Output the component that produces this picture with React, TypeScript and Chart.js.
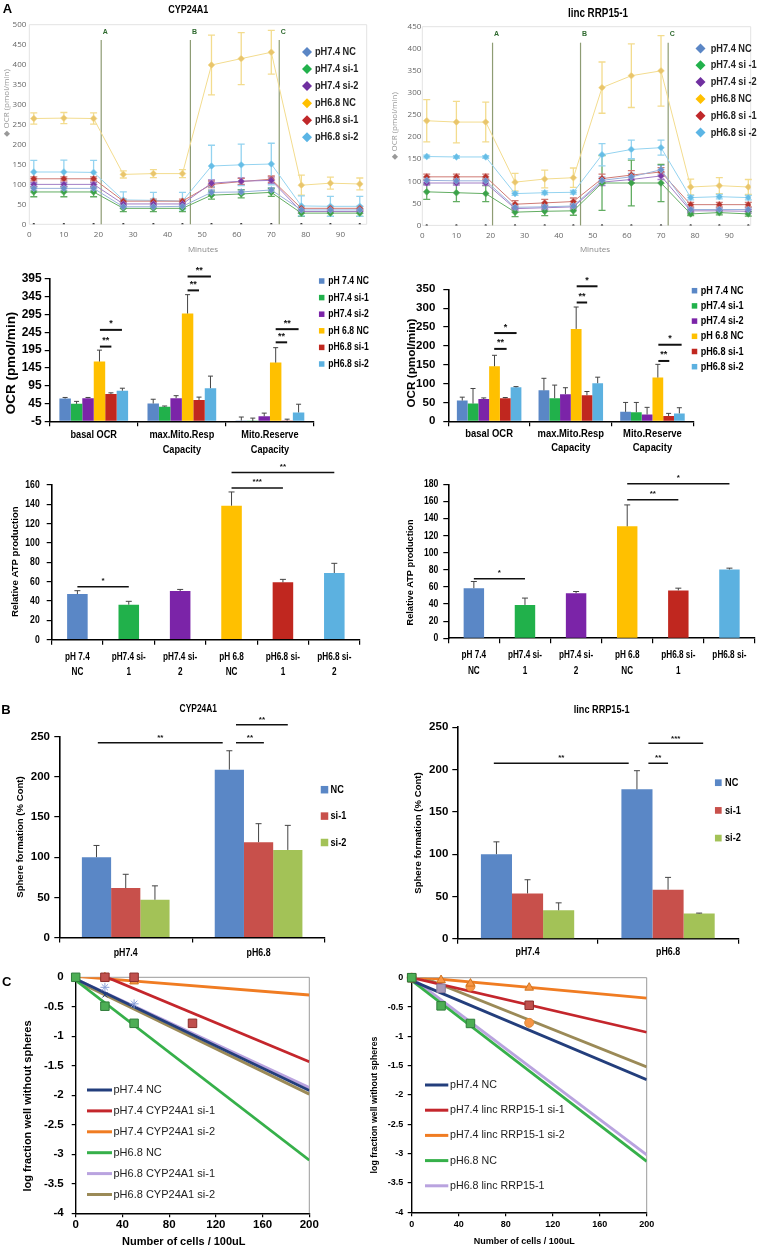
import React, { useEffect, useRef } from 'react';
import { Chart, registerables } from 'chart.js';

Chart.register(...registerables);

const ARIAL = "'Liberation Sans', Arial, Helvetica, sans-serif";
const OPEN = "'Open Sans', 'DejaVu Sans', sans-serif";

/* ================= DATA ================= */
/* A, row 1: Seahorse OCR time course */
const seahorseMinutes = [1.3, 10, 18.6, 27.2, 35.9, 44.3, 52.7, 61.3, 70, 78.7, 87.1, 95.6];
const injectionLabels = ['A', 'B', 'C'];
const cypInjectionMinutes = [20.8, 46.6, 72.3];
const lincInjectionMinutes = [20.6, 46.4, 72.1];
const cypSeahorseGroups = ['pH7.4 NC', 'pH7.4 si-1', 'pH7.4 si-2', 'pH6.8 NC', 'pH6.8 si-1', 'pH6.8 si-2'];
const lincSeahorseGroups = ['pH7.4 NC', 'pH7.4 si -1', 'pH7.4 si -2', 'pH6.8 NC', 'pH6.8 si -1', 'pH6.8 si -2'];

const cypOcr74NC = [90, 90, 90, 44, 44, 45, 80, 81, 86, 36, 36, 36];
const cypOcr74NCErr = [5, 5, 5, 4, 4, 4, 6, 6, 6, 4, 4, 4];
const cypOcr74Si1 = [81, 81, 81, 40, 40, 40, 73, 76, 80, 28, 28, 28];
const cypOcr74Si1Err = [12, 12, 12, 8, 8, 8, 10, 10, 10, 8, 8, 8];
const cypOcr74Si2 = [100, 100, 100, 51, 51, 51, 103, 108, 110, 32, 32, 32];
const cypOcr74Si2Err = [5, 5, 5, 4, 4, 4, 8, 8, 8, 4, 4, 4];
const cypOcr68NC = [265, 266, 265, 125, 127, 127, 399, 415, 431, 98, 103, 101];
const cypOcr68NCErr = [14, 14, 14, 9, 10, 10, 75, 65, 55, 25, 15, 15];
const cypOcr68Si1 = [114, 114, 114, 58, 58, 58, 100, 107, 113, 40, 40, 40];
const cypOcr68Si1Err = [5, 5, 5, 5, 5, 5, 8, 8, 8, 5, 5, 5];
const cypOcr68Si2 = [131, 131, 130, 61, 60, 58, 146, 149, 151, 46, 45, 45];
const cypOcr68Si2Err = [29, 30, 30, 20, 20, 22, 52, 52, 52, 25, 25, 25];

const lincOcr74NC = [102, 101, 101, 41, 42, 44, 102, 110, 126, 36, 36, 36];
const lincOcr74NCErr = [6, 6, 6, 5, 5, 5, 8, 8, 10, 4, 4, 4];
const lincOcr74Si1 = [76, 74, 72, 30, 32, 33, 96, 96, 96, 26, 29, 26];
const lincOcr74Si1Err = [17, 20, 18, 10, 10, 10, 62, 52, 42, 4, 5, 5];
const lincOcr74Si2 = [96, 96, 96, 38, 40, 42, 98, 104, 112, 33, 33, 32];
const lincOcr74Si2Err = [5, 5, 5, 5, 5, 5, 8, 8, 8, 4, 4, 4];
const lincOcr68NC = [237, 234, 234, 98, 105, 108, 312, 339, 350, 87, 90, 87];
const lincOcr68NCErr = [48, 47, 45, 20, 20, 22, 58, 72, 80, 18, 18, 17];
const lincOcr68Si1 = [110, 110, 110, 48, 51, 54, 106, 114, 121, 47, 47, 47];
const lincOcr68Si1Err = [6, 6, 6, 8, 8, 8, 10, 10, 10, 5, 5, 5];
const lincOcr68Si2 = [156, 155, 155, 72, 74, 75, 160, 172, 176, 63, 65, 63];
const lincOcr68Si2Err = [3, 3, 3, 4, 4, 4, 25, 21, 17, 5, 5, 5];

/* A, row 2: OCR summary bars */
const ocrCategories = [['basal OCR'], ['max.Mito.Resp', 'Capacity'], ['Mito.Reserve', 'Capacity']];
const ocrGroups = ['pH 7.4 NC', 'pH7.4 si-1', 'pH7.4 si-2', 'pH 6.8 NC', 'pH6.8 si-1', 'pH6.8 si-2'];
const cypBar74NC = [59, 45, -3];
const cypBar74NCErr = [3, 12, 10];
const cypBar74Si1 = [44, 36, -4];
const cypBar74Si1Err = [7, 2, 8];
const cypBar74Si2 = [60, 60, 9];
const cypBar74Si2Err = [2, 7, 9];
const cypBar68NC = [163, 298, 160];
const cypBar68NCErr = [32, 53, 42];
const cypBar68Si1 = [72, 55, -3];
const cypBar68Si1Err = [3, 8, 4];
const cypBar68Si2 = [81, 88, 20];
const cypBar68Si2Err = [7, 34, 23];

const lincBar74NC = [55, 82, 25];
const lincBar74NCErr = [9, 32, 25];
const lincBar74Si1 = [47, 61, 24];
const lincBar74Si1Err = [40, 35, 26];
const lincBar74Si2 = [59, 72, 18];
const lincBar74Si2Err = [3, 17, 19];
const lincBar68NC = [146, 245, 116];
const lincBar68NCErr = [29, 58, 35];
const lincBar68Si1 = [61, 69, 14];
const lincBar68Si1Err = [2, 10, 7];
const lincBar68Si2 = [90, 101, 21];
const lincBar68Si2Err = [2, 16, 15];

const cypOcrBrackets = [
  { from: 0.07, to: 0.2, y: 205, label: '**' },
  { from: 0.07, to: 0.32, y: 252, label: '*' },
  { from: 1.065, to: 1.195, y: 363, label: '**' },
  { from: 1.065, to: 1.33, y: 402, label: '**' },
  { from: 2.065, to: 2.195, y: 217, label: '**' },
  { from: 2.065, to: 2.325, y: 254, label: '**' },
];
const lincOcrBrackets = [
  { from: 0.062, to: 0.214, y: 192, label: '**' },
  { from: 0.062, to: 0.336, y: 234, label: '*' },
  { from: 1.072, to: 1.2, y: 315, label: '**' },
  { from: 1.072, to: 1.327, y: 358, label: '*' },
  { from: 2.072, to: 2.206, y: 160, label: '**' },
  { from: 2.072, to: 2.357, y: 203, label: '*' },
];

/* A, row 3: relative ATP production */
const atpCategoriesCyp = [['pH 7.4', 'NC'], ['pH7.4 si-', '1'], ['pH7.4 si-', '2'], ['pH 6.8', 'NC'], ['pH6.8 si-', '1'], ['pH6.8 si-', '2']];
const atpCategoriesLinc = [['pH 7.4', 'NC'], ['pH7.4 si-', '1'], ['pH7.4 si-', '2'], ['pH 6.8', 'NC'], ['pH6.8 si-', '1'], ['pH6.8 si-']];
const cypAtp = [47.2, 36.2, 50.3, 138.6, 59.3, 69.0];
const cypAtpErr = [3.5, 3.5, 1.7, 14.2, 3.1, 10];
const lincAtp = [58.6, 39, 52.7, 130.9, 56, 80.5];
const lincAtpErr = [7.8, 8, 2, 25, 2.6, 1.5];
const cypAtpBrackets = [
  { from: 0, to: 1, y: 54.8, label: '*' },
  { from: 3, to: 4, y: 157, label: '***' },
  { from: 3, to: 5, y: 173, label: '**' },
];
const lincAtpBrackets = [
  { from: 0, to: 1, y: 69.5, label: '*' },
  { from: 3, to: 4, y: 162, label: '**' },
  { from: 3, to: 5, y: 180.5, label: '*' },
];

/* B: sphere formation */
const sphereCategories = ['pH7.4', 'pH6.8'];
const sphereGroups = ['NC', 'si-1', 'si-2'];
const cypSphereNC = [100, 209];
const cypSphereNCErr = [14.6, 23.5];
const cypSphereSi1 = [61.5, 118.7];
const cypSphereSi1Err = [17.2, 23];
const cypSphereSi2 = [47, 109];
const cypSphereSi2Err = [17.3, 30.6];
const lincSphereNC = [100, 176.7];
const lincSphereNCErr = [14.6, 22];
const lincSphereSi1 = [53.6, 58];
const lincSphereSi1Err = [16.2, 14.6];
const lincSphereSi2 = [33.7, 29.8];
const lincSphereSi2Err = [8.8, 0.6];
const cypSphereBrackets = [
  { from: -0.21, to: 0.73, y: 242.5, label: '**' },
  { from: 0.83, to: 1.04, y: 242.5, label: '**' },
  { from: 0.83, to: 1.22, y: 265, label: '**' },
];
const lincSphereBrackets = [
  { from: -0.24, to: 0.72, y: 207.5, label: '**' },
  { from: 0.86, to: 1.0, y: 207.5, label: '**' },
  { from: 0.86, to: 1.25, y: 231, label: '***' },
];

/* C: limiting dilution, fitted lines (value at 0 and at 200 cells) */
const ldaDoseEnds = [0, 200];
const cypFitLabels = ['pH7.4 NC', 'pH7.4 CYP24A1 si-1', 'pH7.4 CYP24A1 si-2', 'pH6.8 NC', 'pH6.8 CYP24A1 si-1', 'pH6.8 CYP24A1 si-2'];
const cypFit74NC = [-0.03, -1.92];
const cypFit74Si1 = [0.22, -1.43];
const cypFit74Si2 = [0.015, -0.3];
const cypFit68NC = [-0.05, -3.1];
const cypFit68Si1 = [-0.03, -1.87];
const cypFit68Si2 = [-0.06, -1.98];
const cypObs68NCx = [0, 25, 50];
const cypObs68NCy = [0, -0.49, -0.78];
const cypObs74Si1x = [25, 50, 100];
const cypObs74Si1y = [0, 0, -0.78];
const cypObs74Si2x = [25, 50];
const cypObs74Si2y = [0, -0.07];
const cypObs68Si1x = [25, 50];
const cypObs68Si1y = [-0.17, -0.45];
const cypObs74NCx = [25];
const cypObs74NCy = [-0.3];

const lincFitLabels = ['pH7.4 NC', 'pH7.4 linc RRP15-1 si-1', 'pH7.4 linc RRP15-1 si-2', 'pH6.8 NC', 'pH6.8 linc RRP15-1', ''];
const lincFit74NC = [-0.05, -1.74];
const lincFit74Si1 = [0.0, -0.93];
const lincFit74Si2 = [0.02, -0.35];
const lincFit68NC = [-0.05, -3.13];
const lincFit68Linc = [0.0, -3.02];
const lincFitExtra = [0.08, -1.52];
const lincObs68NCx = [0, 25, 50];
const lincObs68NCy = [0, -0.48, -0.78];
const lincObs74Si1x = [0, 100];
const lincObs74Si1y = [0, -0.47];
const lincObs74Si2x = [25, 50, 100];
const lincObs74Si2y = [-0.04, -0.1, -0.17];
const lincObsExtrax = [0, 50, 100];
const lincObsExtray = [0, -0.15, -0.77];
const lincObs68Lincx = [25];
const lincObs68Lincy = [-0.18];

/* ================= STYLE ================= */
const seahorseMarker = ['#6a8fc9', '#3aa34a', '#7b3aa6', '#e9c56c', '#b8322c', '#66bde6'];
const seahorseLine = ['#9ab3dc', '#62ad62', '#a27fc6', '#f3dc8e', '#cf7a74', '#94d3f0'];
const seahorseLegend = ['#5b86c5', '#22b14c', '#7030a0', '#ffc000', '#c0282a', '#5bb5e5'];
const barColors = ['#5a87c6', '#21b14b', '#7b24a8', '#ffc000', '#c0271f', '#5cb1e0'];
const sphereColors = ['#5a87c6', '#c8504b', '#a3c257'];
const ldaColors = ['#233e7c', '#c4262c', '#f07c22', '#36b04a', '#b9a3df', '#9b8a57'];

type Box = { x: number; y: number; w: number; h: number };
type Area = { l: number; t: number; r: number; b: number };
type TextItem = { t: string; x: number; y: number; font: string; color?: string; align?: string; rot?: number; sx?: number };

const frame = (box: Box, area: Area) => ({
  padding: { left: 0, top: area.t - box.y, right: box.x + box.w - area.r, bottom: 0 },
  fitY: (s: any) => { s.width = area.l - box.x; s.paddingTop = 0; s.paddingBottom = 0; },
  fitX: (s: any) => { s.height = box.y + box.h - area.b; s.paddingLeft = 0; s.paddingRight = 0; },
});

/* ================= PLUGINS ================= */
function drawErrors(chart: any, phase: string) {
  const ctx = chart.ctx;
  const ys = chart.scales.y;
  chart.data.datasets.forEach((ds: any, i: number) => {
    if (!ds.errors || (ds.errorPhase || 'after') !== phase) return;
    const meta = chart.getDatasetMeta(i);
    ctx.save();
    ctx.strokeStyle = ds.errorColor || '#333';
    ctx.lineWidth = ds.errorWidth || 1;
    meta.data.forEach((el: any, j: number) => {
      const raw = ds.data[j];
      const v = typeof raw === 'number' ? raw : raw.y;
      const e = ds.errors[j];
      if (e == null) return;
      const cap = ds.errorCap || 3;
      const x = el.x;
      const yHi = ys.getPixelForValue(v + e);
      const yLo = ds.errorMode === 'both' ? ys.getPixelForValue(v - e) : ys.getPixelForValue(v);
      ctx.beginPath();
      ctx.moveTo(x, yLo);
      ctx.lineTo(x, yHi);
      ctx.moveTo(x - cap, yHi);
      ctx.lineTo(x + cap, yHi);
      if (ds.errorMode === 'both') {
        ctx.moveTo(x - cap, yLo);
        ctx.lineTo(x + cap, yLo);
      }
      ctx.stroke();
    });
    ctx.restore();
  });
}
const errorBars = {
  id: 'errorBars',
  beforeDatasetsDraw(chart: any) { drawErrors(chart, 'before'); },
  afterDatasetsDraw(chart: any) { drawErrors(chart, 'after'); },
};

/* draws a scale's tick labels horizontally condensed (like Arial Narrow) */
function condenseTicks(axes: Record<string, number>) {
  return {
    id: 'condenseTicks',
    beforeDraw(chart: any) {
      Object.keys(axes).forEach((id) => {
        const scale = chart.scales[id];
        if (!scale || scale.__condensed) return;
        scale.__condensed = true;
        const sx = axes[id];
        scale.drawLabels = function (chartArea: any) {
          if (!this.options.ticks.display) return;
          const ctx = this.ctx;
          const items = this.getLabelItems(chartArea);
          for (const item of items) {
            const o = item.options;
            ctx.save();
            ctx.translate(o.translation[0], o.translation[1]);
            if (o.rotation) ctx.rotate(o.rotation);
            ctx.scale(sx, 1);
            ctx.font = item.font.string;
            ctx.fillStyle = o.color;
            ctx.textAlign = o.textAlign;
            ctx.textBaseline = o.textBaseline;
            const lines = Array.isArray(item.label) ? item.label : [item.label];
            let y = item.textOffset;
            for (const line of lines) {
              ctx.fillText(String(line), 0, y);
              y += Number(item.font.lineHeight);
            }
            ctx.restore();
          }
        };
      });
    },
  };
}

function textPlugin(box: Box, items: TextItem[]) {
  return {
    id: 'pageText',
    afterDraw(chart: any) {
      const ctx = chart.ctx;
      items.forEach((it) => {
        ctx.save();
        ctx.font = it.font;
        ctx.fillStyle = it.color || '#000';
        ctx.textAlign = (it.align || 'center') as CanvasTextAlign;
        ctx.textBaseline = 'middle';
        ctx.translate(it.x - box.x, it.y - box.y);
        if (it.rot) ctx.rotate(it.rot);
        if (it.sx) ctx.scale(it.sx, 1);
        ctx.fillText(it.t, 0, 0);
        ctx.restore();
      });
    },
  };
}

function legendPlugin(box: Box, s: any) {
  return {
    id: 'pageLegend',
    afterDraw(chart: any) {
      const ctx = chart.ctx;
      let i = 0;
      chart.data.datasets.forEach((ds: any) => {
        if (ds.inLegend === false) return;
        const y = s.y + i * s.step - box.y;
        const x = s.x - box.x;
        const col = ds.legendColor || ds.borderColor || ds.backgroundColor;
        ctx.save();
        ctx.fillStyle = col;
        ctx.strokeStyle = col;
        if (s.marker === 'diamond') {
          ctx.beginPath();
          ctx.moveTo(x, y - s.size);
          ctx.lineTo(x + s.size, y);
          ctx.lineTo(x, y + s.size);
          ctx.lineTo(x - s.size, y);
          ctx.closePath();
          ctx.fill();
        } else if (s.marker === 'square') {
          ctx.fillRect(x - s.size / 2, y - s.size / 2, s.size, s.size);
        } else {
          ctx.lineWidth = s.size;
          ctx.beginPath();
          ctx.moveTo(x, y);
          ctx.lineTo(x + s.lineLen, y);
          ctx.stroke();
        }
        ctx.fillStyle = s.color || '#000';
        ctx.font = s.font;
        ctx.textAlign = 'left';
        ctx.textBaseline = 'middle';
        ctx.translate(s.textX - box.x, y);
        if (s.sx) ctx.scale(s.sx, 1);
        ctx.fillText(ds.label, 0, 0);
        ctx.restore();
        i++;
      });
    },
  };
}

function bracketPlugin(list: any[], lw: number, font: string, gap: number) {
  return {
    id: 'brackets',
    afterDatasetsDraw(chart: any) {
      const ctx = chart.ctx;
      const xs = chart.scales.x;
      const ys = chart.scales.y;
      ctx.save();
      ctx.strokeStyle = '#111';
      ctx.fillStyle = '#111';
      ctx.lineWidth = lw;
      ctx.font = font;
      ctx.textAlign = 'center';
      ctx.textBaseline = 'middle';
      list.forEach((b) => {
        const x1 = xs.getPixelForValue(b.from);
        const x2 = xs.getPixelForValue(b.to);
        const y = ys.getPixelForValue(b.y);
        ctx.beginPath();
        ctx.moveTo(x1, y);
        ctx.lineTo(x2, y);
        ctx.stroke();
        ctx.fillText(b.label, (x1 + x2) / 2, y - gap);
      });
      ctx.restore();
    },
  };
}

function injectionPlugin(box: Box, minutes: number[], top: number, labelY: number) {
  return {
    id: 'injections',
    beforeDatasetsDraw(chart: any) {
      const ctx = chart.ctx;
      const xs = chart.scales.x;
      const bottom = chart.chartArea.bottom;
      minutes.forEach((m, i) => {
        const x = xs.getPixelForValue(m);
        ctx.save();
        ctx.strokeStyle = '#8e9c74';
        ctx.lineWidth = 1.2;
        ctx.beginPath();
        ctx.moveTo(x, top - box.y);
        ctx.lineTo(x, bottom);
        ctx.stroke();
        ctx.fillStyle = '#2f6a2f';
        ctx.font = `bold 7px ${ARIAL}`;
        ctx.textAlign = 'left';
        ctx.textBaseline = 'middle';
        ctx.fillText(injectionLabels[i], x + 1.5, labelY - box.y);
        ctx.restore();
      });
    },
  };
}

function areaBorder(color: string, sides: string) {
  return {
    id: 'areaBorder',
    beforeDatasetsDraw(chart: any) {
      const ctx = chart.ctx;
      const { left, right, top, bottom } = chart.chartArea;
      ctx.save();
      ctx.strokeStyle = color;
      ctx.lineWidth = 1;
      ctx.beginPath();
      if (sides.includes('t')) { ctx.moveTo(left, top); ctx.lineTo(right, top); }
      if (sides.includes('r')) { ctx.moveTo(right, top); ctx.lineTo(right, bottom); }
      if (sides.includes('b')) { ctx.moveTo(left, bottom); ctx.lineTo(right, bottom); }
      if (sides.includes('l')) { ctx.moveTo(left, top); ctx.lineTo(left, bottom); }
      ctx.stroke();
      ctx.restore();
    },
  };
}

const baseOptions = (f: any) => ({
  responsive: false,
  animation: false,
  devicePixelRatio: 1,
  layout: { padding: f.padding, autoPadding: false },
  plugins: { legend: { display: false }, tooltip: { enabled: false }, title: { display: false } },
});

/* ================= BUILDERS ================= */
function seahorseSpec(p: any) {
  const f = frame(p.box, p.area);
  const datasets: any[] = p.labels.map((label: string, k: number) => ({
    type: 'line',
    label,
    data: seahorseMinutes.map((m, i) => ({ x: m, y: p.values[k][i] })),
    errors: p.errors[k],
    errorMode: 'both',
    errorColor: seahorseLine[k],
    errorWidth: 1.3,
    errorCap: 3.5,
    errorPhase: 'before',
    borderColor: seahorseLine[k],
    backgroundColor: seahorseMarker[k],
    borderWidth: 1,
    pointStyle: 'rectRot',
    pointRadius: 3.4,
    pointBackgroundColor: seahorseMarker[k],
    pointBorderColor: seahorseLine[k],
    pointBorderWidth: 0.6,
    legendColor: seahorseLegend[k],
    order: 1,
  }));
  datasets.push({
    type: 'line', label: '', inLegend: false, showLine: false, order: 0,
    data: seahorseMinutes.map((m) => ({ x: m, y: 0 })),
    pointRadius: 1.2, pointBackgroundColor: '#333', pointBorderWidth: 0, borderWidth: 0,
  });
  const tickFont = { family: OPEN, size: 8 };
  return {
    box: p.box,
    build: () => ({
      type: 'line',
      data: { datasets },
      options: {
        ...baseOptions(f),
        scales: {
          x: {
            type: 'linear', min: 0, max: p.xMax, afterFit: f.fitX,
            grid: { display: false, drawTicks: false }, border: { display: false },
            ticks: { stepSize: 10, includeBounds: false, padding: 6, color: '#666', font: tickFont, maxRotation: 0 },
          },
          y: {
            min: 0, max: p.yMax, afterFit: f.fitY,
            grid: { display: false, drawTicks: false }, border: { display: false },
            ticks: { stepSize: 50, padding: p.yPad, color: '#666', font: tickFont },
          },
        },
      },
      plugins: [
        areaBorder('#e3e3e3', 'trbl'),
        errorBars,
        injectionPlugin(p.box, p.injections, p.injTop, p.injLabelY),
        legendPlugin(p.box, p.legend),
        textPlugin(p.box, p.texts),
      ],
    }),
  };
}

function excelScales(f: any, o: any) {
  return {
    x: {
      afterFit: f.fitX,
      grid: { display: true, drawOnChartArea: false, drawTicks: true, tickLength: o.tl, color: '#000', lineWidth: 1.2, offset: true },
      border: { display: true, color: '#000', width: 1.6 },
      ticks: { autoSkip: false, maxRotation: 0, padding: o.xPad, color: '#000', font: o.xFont },
    },
    y: {
      min: o.yMin, max: o.yMax, afterFit: f.fitY,
      grid: { display: true, drawOnChartArea: false, drawTicks: true, tickLength: o.tl, color: '#000', lineWidth: 1.2 },
      border: { display: true, color: '#000', width: 1.6 },
      ticks: { stepSize: o.step, padding: o.yPad, color: '#000', font: o.yFont },
    },
  };
}

function groupedBarSpec(p: any) {
  const f = frame(p.box, p.area);
  const datasets = p.groups.map((g: string, k: number) => ({
    label: g,
    data: p.values[k],
    errors: p.errors[k],
    errorMode: 'up',
    errorColor: '#444',
    errorWidth: 1,
    errorCap: p.cap,
    backgroundColor: p.colors[k],
    base: p.base,
    categoryPercentage: p.catPct,
    barPercentage: 1,
  }));
  return {
    box: p.box,
    build: () => ({
      type: 'bar',
      data: { labels: p.categories, datasets },
      options: { ...baseOptions(f), scales: excelScales(f, p.axes) },
      plugins: [
        condenseTicks(p.condense),
        errorBars,
        bracketPlugin(p.brackets, p.bracketLw, p.bracketFont, p.bracketGap),
        legendPlugin(p.box, p.legend),
        textPlugin(p.box, p.texts),
      ],
    }),
  };
}

function atpSpec(p: any) {
  const f = frame(p.box, p.area);
  return {
    box: p.box,
    build: () => ({
      type: 'bar',
      data: {
        labels: p.categories,
        datasets: [{
          label: 'Relative ATP production', data: p.values, errors: p.errors, errorMode: 'up',
          errorColor: '#444', errorWidth: 1, errorCap: 3, backgroundColor: barColors,
          categoryPercentage: 0.4, barPercentage: 1, inLegend: false,
        }],
      },
      options: { ...baseOptions(f), scales: excelScales(f, p.axes) },
      plugins: [condenseTicks(p.condense), errorBars, bracketPlugin(p.brackets, 1.5, `bold 8px ${ARIAL}`, 6), textPlugin(p.box, p.texts)],
    }),
  };
}

function ldaSpec(p: any) {
  const f = frame(p.box, p.area);
  const datasets: any[] = [];
  p.fits.forEach((fit: any, k: number) => {
    datasets.push({
      type: 'line', label: p.fitLabels[k], inLegend: p.fitLabels[k] !== '',
      data: ldaDoseEnds.map((x, i) => ({ x, y: fit[i] })),
      borderColor: ldaColors[k], backgroundColor: ldaColors[k], borderWidth: 2.8, pointRadius: 0, clip: 0, order: 1,
    });
  });
  p.obs.forEach((o: any) => {
    datasets.push({
      type: 'line', label: '', inLegend: false, showLine: false, clip: false, order: 0,
      data: o.xs.map((x: number, i: number) => ({ x, y: o.ys[i] })),
      pointStyle: o.style, pointRadius: o.r, pointBackgroundColor: o.fill, pointBorderColor: o.stroke, pointBorderWidth: 1,
    });
  });
  const tick = { display: true, drawOnChartArea: false, drawTicks: true, tickLength: 4, color: '#000', lineWidth: 1.2 };
  return {
    box: p.box,
    build: () => ({
      type: 'line',
      data: { datasets },
      options: {
        ...baseOptions(f),
        scales: {
          x: {
            type: 'linear', min: 0, max: 200, afterFit: f.fitX, grid: tick,
            border: { display: true, color: '#000', width: 1.4 },
            ticks: { stepSize: 40, padding: p.xPad, color: '#000', font: p.tickFont, maxRotation: 0 },
          },
          y: {
            min: -4, max: 0, afterFit: f.fitY, grid: tick,
            border: { display: true, color: '#000', width: 1.4 },
            ticks: { stepSize: 0.5, padding: p.yPad, color: '#000', font: p.tickFont, callback: (v: number) => String(Math.round(v * 10) / 10) },
          },
        },
      },
      plugins: [areaBorder('#9a9a9a', 'tr'), legendPlugin(p.box, p.legend), textPlugin(p.box, p.texts)],
    }),
  };
}

/* ================= CHART SPECS ================= */
const HALF_PI = -Math.PI / 2;

const chart1L = seahorseSpec({
  box: { x: 0, y: 0, w: 380, h: 258 },
  area: { l: 29.3, t: 24.7, r: 366.7, b: 224.3 },
  xMax: 97.6, yMax: 500, yPad: 3,
  labels: cypSeahorseGroups,
  values: [cypOcr74NC, cypOcr74Si1, cypOcr74Si2, cypOcr68NC, cypOcr68Si1, cypOcr68Si2],
  errors: [cypOcr74NCErr, cypOcr74Si1Err, cypOcr74Si2Err, cypOcr68NCErr, cypOcr68Si1Err, cypOcr68Si2Err],
  injections: cypInjectionMinutes, injTop: 40, injLabelY: 32.5,
  legend: { x: 307, textX: 315, y: 52, step: 17.05, font: `bold 11.5px ${ARIAL}`, sx: 0.8, marker: 'diamond', size: 5, color: '#222' },
  texts: [
    { t: 'A', x: 7.5, y: 9, font: `bold 13px ${ARIAL}` },
    { t: 'CYP24A1', x: 188.3, y: 10, font: `bold 11px ${ARIAL}`, sx: 0.82 },
    { t: 'Minutes', x: 203, y: 249.3, font: `8px ${OPEN}`, color: '#888' },
    { t: '\u25C6 OCR (pmol/min)', x: 6.5, y: 103, font: `8px ${OPEN}`, color: '#999', rot: HALF_PI },
  ],
});

const chart1R = seahorseSpec({
  box: { x: 380, y: 0, w: 379, h: 258 },
  area: { l: 422.3, t: 26.7, r: 750.7, b: 225.4 },
  xMax: 96.3, yMax: 450, yPad: 1,
  labels: lincSeahorseGroups,
  values: [lincOcr74NC, lincOcr74Si1, lincOcr74Si2, lincOcr68NC, lincOcr68Si1, lincOcr68Si2],
  errors: [lincOcr74NCErr, lincOcr74Si1Err, lincOcr74Si2Err, lincOcr68NCErr, lincOcr68Si1Err, lincOcr68Si2Err],
  injections: lincInjectionMinutes, injTop: 42.7, injLabelY: 34.3,
  legend: { x: 700.5, textX: 710.7, y: 48.5, step: 16.8, font: `bold 11.5px ${ARIAL}`, sx: 0.8, marker: 'diamond', size: 5, color: '#222' },
  texts: [
    { t: 'linc RRP15-1', x: 598, y: 13.3, font: `bold 12px ${ARIAL}`, sx: 0.82 },
    { t: 'Minutes', x: 595, y: 249.3, font: `8px ${OPEN}`, color: '#888' },
    { t: '\u25C6 OCR (pmol/min)', x: 395, y: 126, font: `8px ${OPEN}`, color: '#999', rot: HALF_PI },
  ],
});

const chart2L = groupedBarSpec({
  box: { x: 0, y: 262, w: 380, h: 196 },
  area: { l: 49.7, t: 279, r: 314, b: 421.3 },
  categories: ocrCategories, groups: ocrGroups, colors: barColors, base: -5, catPct: 0.78, cap: 2.5,
  values: [cypBar74NC, cypBar74Si1, cypBar74Si2, cypBar68NC, cypBar68Si1, cypBar68Si2],
  errors: [cypBar74NCErr, cypBar74Si1Err, cypBar74Si2Err, cypBar68NCErr, cypBar68Si1Err, cypBar68Si2Err],
  condense: { x: 0.8 },
  axes: {
    yMin: -5, yMax: 395, step: 50, tl: 5, yPad: 3, xPad: 1.2,
    yFont: { family: ARIAL, size: 12, weight: 'bold' },
    xFont: { family: ARIAL, size: 11.5, weight: 'bold', lineHeight: 1.3 },
  },
  brackets: cypOcrBrackets, bracketLw: 2, bracketFont: `bold 9px ${ARIAL}`, bracketGap: 6,
  legend: { x: 321.7, textX: 328.3, y: 281, step: 16.6, font: `bold 11px ${ARIAL}`, sx: 0.78, marker: 'square', size: 5.5 },
  texts: [{ t: 'OCR (pmol/min)', x: 11.7, y: 363, font: `bold 13.5px ${ARIAL}`, rot: HALF_PI }],
});

const chart2R = groupedBarSpec({
  box: { x: 380, y: 262, w: 379, h: 196 },
  area: { l: 448.3, t: 289.3, r: 693.3, b: 421.3 },
  categories: ocrCategories, groups: ocrGroups, colors: barColors, base: 0, catPct: 0.79, cap: 2.5,
  values: [lincBar74NC, lincBar74Si1, lincBar74Si2, lincBar68NC, lincBar68Si1, lincBar68Si2],
  errors: [lincBar74NCErr, lincBar74Si1Err, lincBar74Si2Err, lincBar68NCErr, lincBar68Si1Err, lincBar68Si2Err],
  condense: { x: 0.82 },
  axes: {
    yMin: 0, yMax: 350, step: 50, tl: 5, yPad: 8, xPad: 0.7,
    yFont: { family: ARIAL, size: 11.5, weight: 'bold' },
    xFont: { family: ARIAL, size: 11.5, weight: 'bold', lineHeight: 1.22 },
  },
  brackets: lincOcrBrackets, bracketLw: 2, bracketFont: `bold 9px ${ARIAL}`, bracketGap: 6,
  legend: { x: 694.5, textX: 700.7, y: 290.7, step: 15.2, font: `bold 11.5px ${ARIAL}`, sx: 0.79, marker: 'square', size: 5.5 },
  texts: [{ t: 'OCR (pmol/min)', x: 411.7, y: 363, font: `bold 11.7px ${ARIAL}`, rot: HALF_PI }],
});

const chart3L = atpSpec({
  box: { x: 0, y: 462, w: 380, h: 222 },
  area: { l: 51.7, t: 485, r: 360, b: 639.7 },
  categories: atpCategoriesCyp, values: cypAtp, errors: cypAtpErr, brackets: cypAtpBrackets,
  condense: { x: 0.78, y: 0.82 },
  axes: {
    yMin: 0, yMax: 160, step: 20, tl: 5, yPad: 7, xPad: 4.2,
    yFont: { family: ARIAL, size: 10.5, weight: 'bold' },
    xFont: { family: ARIAL, size: 10.5, weight: 'bold', lineHeight: 1.48 },
  },
  texts: [{ t: 'Relative ATP production', x: 15, y: 561.7, font: `bold 9.6px ${ARIAL}`, rot: HALF_PI }],
});

const chart3R = atpSpec({
  box: { x: 380, y: 462, w: 379, h: 222 },
  area: { l: 448.3, t: 484.3, r: 755, b: 638.3 },
  categories: atpCategoriesLinc, values: lincAtp, errors: lincAtpErr, brackets: lincAtpBrackets,
  condense: { x: 0.78, y: 0.82 },
  axes: {
    yMin: 0, yMax: 180, step: 20, tl: 5, yPad: 5, xPad: 3.6,
    yFont: { family: ARIAL, size: 10.5, weight: 'bold' },
    xFont: { family: ARIAL, size: 10.5, weight: 'bold', lineHeight: 1.55 },
  },
  texts: [{ t: 'Relative ATP production', x: 410, y: 572.5, font: `bold 9.2px ${ARIAL}`, rot: HALF_PI }],
});

const chart4L = groupedBarSpec({
  box: { x: 0, y: 690, w: 380, h: 275 },
  area: { l: 59.3, t: 736.7, r: 325, b: 937.5 },
  categories: sphereCategories, groups: sphereGroups, colors: sphereColors, base: 0, catPct: 0.66, cap: 3,
  values: [cypSphereNC, cypSphereSi1, cypSphereSi2],
  errors: [cypSphereNCErr, cypSphereSi1Err, cypSphereSi2Err],
  condense: { x: 0.8 },
  axes: {
    yMin: 0, yMax: 250, step: 50, tl: 5, yPad: 4.3, xPad: 3.6,
    yFont: { family: ARIAL, size: 11.5, weight: 'bold' },
    xFont: { family: ARIAL, size: 11, weight: 'bold' },
  },
  brackets: cypSphereBrackets, bracketLw: 1.5, bracketFont: `bold 8px ${ARIAL}`, bracketGap: 5,
  legend: { x: 324.5, textX: 330.5, y: 789.7, step: 26.4, font: `bold 11.5px ${ARIAL}`, sx: 0.8, marker: 'square', size: 7.5 },
  texts: [
    { t: 'B', x: 6, y: 710, font: `bold 13px ${ARIAL}` },
    { t: 'CYP24A1', x: 198.3, y: 709, font: `bold 10.5px ${ARIAL}`, sx: 0.8 },
    { t: 'Sphere formation (% Cont)', x: 20, y: 837, font: `bold 9.6px ${ARIAL}`, rot: HALF_PI },
  ],
});

const chart4R = groupedBarSpec({
  box: { x: 380, y: 690, w: 379, h: 275 },
  area: { l: 457.3, t: 727.3, r: 738.3, b: 938.8 },
  categories: sphereCategories, groups: sphereGroups, colors: sphereColors, base: 0, catPct: 0.664, cap: 3,
  values: [lincSphereNC, lincSphereSi1, lincSphereSi2],
  errors: [lincSphereNCErr, lincSphereSi1Err, lincSphereSi2Err],
  condense: { x: 0.8 },
  axes: {
    yMin: 0, yMax: 250, step: 50, tl: 5, yPad: 4, xPad: 1.7,
    yFont: { family: ARIAL, size: 11.5, weight: 'bold' },
    xFont: { family: ARIAL, size: 11, weight: 'bold' },
  },
  brackets: lincSphereBrackets, bracketLw: 1.5, bracketFont: `bold 8px ${ARIAL}`, bracketGap: 5,
  legend: { x: 718.3, textX: 725, y: 782.7, step: 27.7, font: `bold 11.5px ${ARIAL}`, sx: 0.8, marker: 'square', size: 6.7 },
  texts: [
    { t: 'linc RRP15-1', x: 601.7, y: 710, font: `bold 11px ${ARIAL}`, sx: 0.83 },
    { t: 'Sphere formation (% Cont)', x: 418.3, y: 833, font: `bold 9.6px ${ARIAL}`, rot: HALF_PI },
  ],
});

const chart5L = ldaSpec({
  box: { x: 0, y: 965, w: 380, h: 283 },
  area: { l: 75.7, t: 977.3, r: 309.3, b: 1213.3 },
  fitLabels: cypFitLabels,
  fits: [cypFit74NC, cypFit74Si1, cypFit74Si2, cypFit68NC, cypFit68Si1, cypFit68Si2],
  obs: [
    { xs: cypObs68NCx, ys: cypObs68NCy, style: 'rect', r: 6, fill: '#4dae55', stroke: '#2f7d3a' },
    { xs: cypObs74Si1x, ys: cypObs74Si1y, style: 'rect', r: 6, fill: '#c0504d', stroke: '#8c2f2c' },
    { xs: cypObs74Si2x, ys: cypObs74Si2y, style: 'triangle', r: 5, fill: '#f79646', stroke: '#d0741f' },
    { xs: cypObs68Si1x, ys: cypObs68Si1y, style: 'star', r: 4.5, fill: '#9ab0dd', stroke: '#8aa0d8' },
    { xs: cypObs74NCx, ys: cypObs74NCy, style: 'crossRot', r: 3.5, fill: '#233e7c', stroke: '#233e7c' },
  ],
  tickFont: { family: ARIAL, size: 11.5, weight: 'bold' },
  xPad: 0.8, yPad: 8,
  legend: { x: 87, textX: 113.5, y: 1090, step: 20.9, font: `11px ${ARIAL}`, marker: 'line', size: 3, lineLen: 25, color: '#222' },
  texts: [
    { t: 'C', x: 6.7, y: 982, font: `bold 13px ${ARIAL}` },
    { t: 'log fraction well without spheres', x: 28.3, y: 1106, font: `bold 11px ${ARIAL}`, rot: HALF_PI },
    { t: 'Number of cells / 100uL', x: 183.8, y: 1241.7, font: `bold 11px ${ARIAL}` },
  ],
});

const chart5R = ldaSpec({
  box: { x: 365, y: 965, w: 394, h: 283 },
  area: { l: 411.7, t: 977.7, r: 646.7, b: 1212.3 },
  fitLabels: lincFitLabels,
  fits: [lincFit74NC, lincFit74Si1, lincFit74Si2, lincFit68NC, lincFit68Linc, lincFitExtra],
  obs: [
    { xs: lincObs68NCx, ys: lincObs68NCy, style: 'rect', r: 6, fill: '#4dae55', stroke: '#2f7d3a' },
    { xs: lincObs74Si1x, ys: lincObs74Si1y, style: 'rect', r: 6, fill: '#c0504d', stroke: '#8c2f2c' },
    { xs: lincObs74Si2x, ys: lincObs74Si2y, style: 'triangle', r: 5, fill: '#f79646', stroke: '#d0741f' },
    { xs: lincObsExtrax, ys: lincObsExtray, style: 'circle', r: 4.5, fill: '#f79646', stroke: '#e08a3a' },
    { xs: lincObs68Lincx, ys: lincObs68Lincy, style: 'rect', r: 6, fill: '#a89ab8', stroke: '#8a7c9c' },
  ],
  tickFont: { family: ARIAL, size: 9, weight: 'bold' },
  xPad: 3.3, yPad: 4.4,
  legend: { x: 425, textX: 450, y: 1085, step: 25.2, font: `10.7px ${ARIAL}`, marker: 'line', size: 3, lineLen: 23.3, color: '#222' },
  texts: [
    { t: 'log fraction well without spheres', x: 375, y: 1105, font: `bold 8.8px ${ARIAL}`, rot: HALF_PI },
    { t: 'Number of cells / 100uL', x: 524.2, y: 1241.7, font: `bold 9px ${ARIAL}` },
  ],
});

const allCharts = [chart1L, chart1R, chart2L, chart2R, chart3L, chart3R, chart4L, chart4R, chart5L, chart5R];

/* ================= COMPONENTS ================= */
function ChartCanvas({ spec }: { spec: any }) {
  const ref = useRef<HTMLCanvasElement | null>(null);
  useEffect(() => {
    if (!ref.current) return;
    const chart = new Chart(ref.current, spec.build());
    return () => chart.destroy();
  }, [spec]);
  const b = spec.box;
  return (
    <canvas
      ref={ref}
      width={b.w}
      height={b.h}
      style={{ position: 'absolute', left: b.x, top: b.y, width: b.w, height: b.h }}
    />
  );
}

export default function App() {
  return (
    <div style={{ position: 'absolute', left: 0, top: 0, width: 759, height: 1248, background: '#fff', overflow: 'hidden' }}>
      {allCharts.map((spec, i) => (
        <ChartCanvas key={i} spec={spec} />
      ))}
    </div>
  );
}
